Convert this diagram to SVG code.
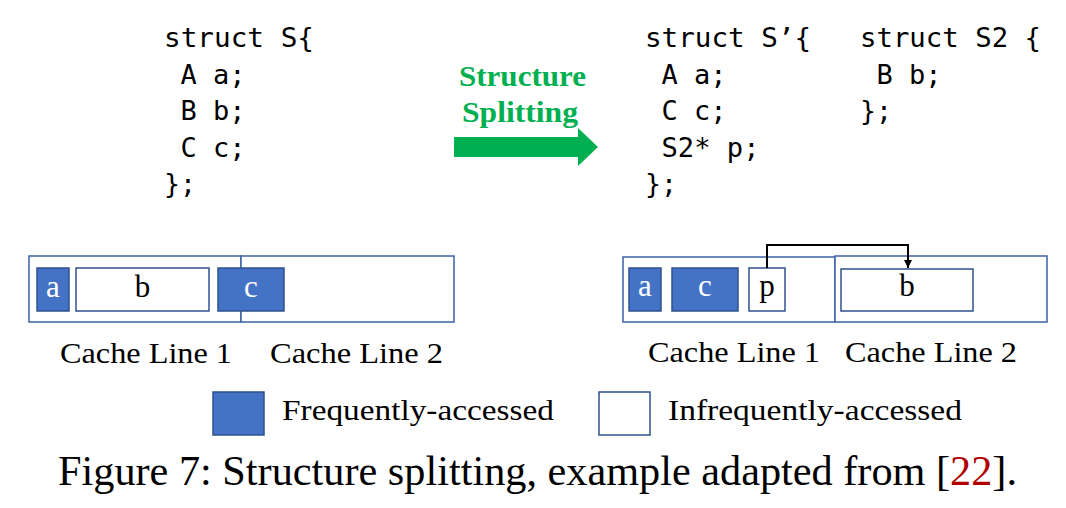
<svg xmlns="http://www.w3.org/2000/svg" width="1066" height="508" viewBox="0 0 1066 508">
<defs>
<style>
.code{font-family:"DejaVu Sans Mono","Liberation Mono",monospace;font-size:26px;fill:#000}
.lbl{font-family:"Liberation Serif","Times New Roman",serif;font-size:30px;fill:#000}
.box{font-family:"Liberation Serif","Times New Roman",serif;font-size:31px;text-anchor:middle}
.green{font-family:"Liberation Serif","Times New Roman",serif;font-size:30px;font-weight:bold;fill:#00B050}
.line{fill:#fff;stroke:#3B62A8;stroke-width:1.5}
.hot{fill:#4472C4;stroke:#2F528F;stroke-width:1.5}
.cold{fill:#fff;stroke:#2F528F;stroke-width:1.5}
.cap{font-family:"Liberation Serif","Times New Roman",serif;font-size:42px;fill:#000}
</style>
<marker id="ah" markerWidth="10" markerHeight="10" refX="8" refY="5" orient="auto" markerUnits="userSpaceOnUse">
<path d="M0,1 L8,5 L0,9 Z" fill="#000"/>
</marker>
</defs>
<rect width="1066" height="508" fill="#fff"/>

<g id="code-S">
<text class="code" x="164" y="47" textLength="150" lengthAdjust="spacingAndGlyphs">struct S{</text>
<text class="code" x="180.5" y="83.5" textLength="65" lengthAdjust="spacingAndGlyphs">A a;</text>
<text class="code" x="180.5" y="120" textLength="65" lengthAdjust="spacingAndGlyphs">B b;</text>
<text class="code" x="180.5" y="156.5" textLength="65" lengthAdjust="spacingAndGlyphs">C c;</text>
<text class="code" x="164" y="193" textLength="32" lengthAdjust="spacingAndGlyphs">};</text>
</g>

<g id="code-S-prime">
<text class="code" x="645" y="47" textLength="166" lengthAdjust="spacingAndGlyphs">struct S’{</text>
<text class="code" x="661.5" y="83.5" textLength="65" lengthAdjust="spacingAndGlyphs">A a;</text>
<text class="code" x="661.5" y="120" textLength="65" lengthAdjust="spacingAndGlyphs">C c;</text>
<text class="code" x="661.5" y="156.5" textLength="98" lengthAdjust="spacingAndGlyphs">S2* p;</text>
<text class="code" x="645" y="193" textLength="32" lengthAdjust="spacingAndGlyphs">};</text>
</g>

<g id="code-S2">
<text class="code" x="860" y="47" textLength="181" lengthAdjust="spacingAndGlyphs">struct S2 {</text>
<text class="code" x="876.5" y="83.5" textLength="65" lengthAdjust="spacingAndGlyphs">B b;</text>
<text class="code" x="860" y="120" textLength="32" lengthAdjust="spacingAndGlyphs">};</text>
</g>

<g id="split-label">
<text class="green" x="459" y="86" textLength="127" lengthAdjust="spacingAndGlyphs">Structure</text>
<text class="green" x="462" y="122" textLength="116" lengthAdjust="spacingAndGlyphs">Splitting</text>
</g>

<g id="left-cache">
<rect class="line" x="29" y="256" width="212" height="66"/>
<rect class="line" x="241" y="256" width="213" height="66"/>
<rect class="hot" x="37" y="268" width="32" height="43"/>
<text class="box" x="53" y="297" fill="#fff">a</text>
<rect class="cold" x="76" y="268" width="133" height="43"/>
<text class="box" x="142.5" y="297" fill="#000">b</text>
<rect class="hot" x="218" y="268" width="66" height="43"/>
<text class="box" x="251" y="297" fill="#fff">c</text>
<text class="lbl" x="60" y="363" textLength="172" lengthAdjust="spacingAndGlyphs">Cache Line 1</text>
<text class="lbl" x="270" y="363" textLength="173" lengthAdjust="spacingAndGlyphs">Cache Line 2</text>
</g>

<g id="right-cache">
<rect class="line" x="623" y="257" width="212" height="65"/>
<rect class="line" x="835" y="256" width="212" height="66"/>
<rect class="hot" x="629" y="268" width="32" height="43"/>
<text class="box" x="645" y="296" fill="#fff">a</text>
<rect class="hot" x="672" y="268" width="66" height="43"/>
<text class="box" x="705" y="296" fill="#fff">c</text>
<rect class="cold" x="749" y="268" width="36" height="43"/>
<text class="box" x="767" y="296" fill="#000">p</text>
<rect class="cold" x="841" y="269" width="132" height="42"/>
<text class="box" x="907" y="296" fill="#000">b</text>
<text class="lbl" x="648" y="362" textLength="172" lengthAdjust="spacingAndGlyphs">Cache Line 1</text>
<text class="lbl" x="845" y="362" textLength="172" lengthAdjust="spacingAndGlyphs">Cache Line 2</text>
</g>

<g id="connectors">
<path d="M454,137 H578 V128 L598,147 L578,166 V157 H454 Z" fill="#00B050"/>
<path d="M767,268 V245 H908 V268" fill="none" stroke="#000" stroke-width="2" marker-end="url(#ah)"/>
</g>

<g id="legend">
<rect class="hot" x="213" y="392" width="51" height="43"/>
<text class="lbl" x="282" y="420" textLength="272" lengthAdjust="spacingAndGlyphs">Frequently-accessed</text>
<rect class="cold" x="599" y="392" width="51" height="43"/>
<text class="lbl" x="668" y="420" textLength="294" lengthAdjust="spacingAndGlyphs">Infrequently-accessed</text>
</g>

<g id="caption">
<text class="cap" x="58" y="485" textLength="959" lengthAdjust="spacingAndGlyphs">Figure 7: Structure splitting, example adapted from [<tspan fill="#B00000">22</tspan>].</text>
</g>
</svg>
